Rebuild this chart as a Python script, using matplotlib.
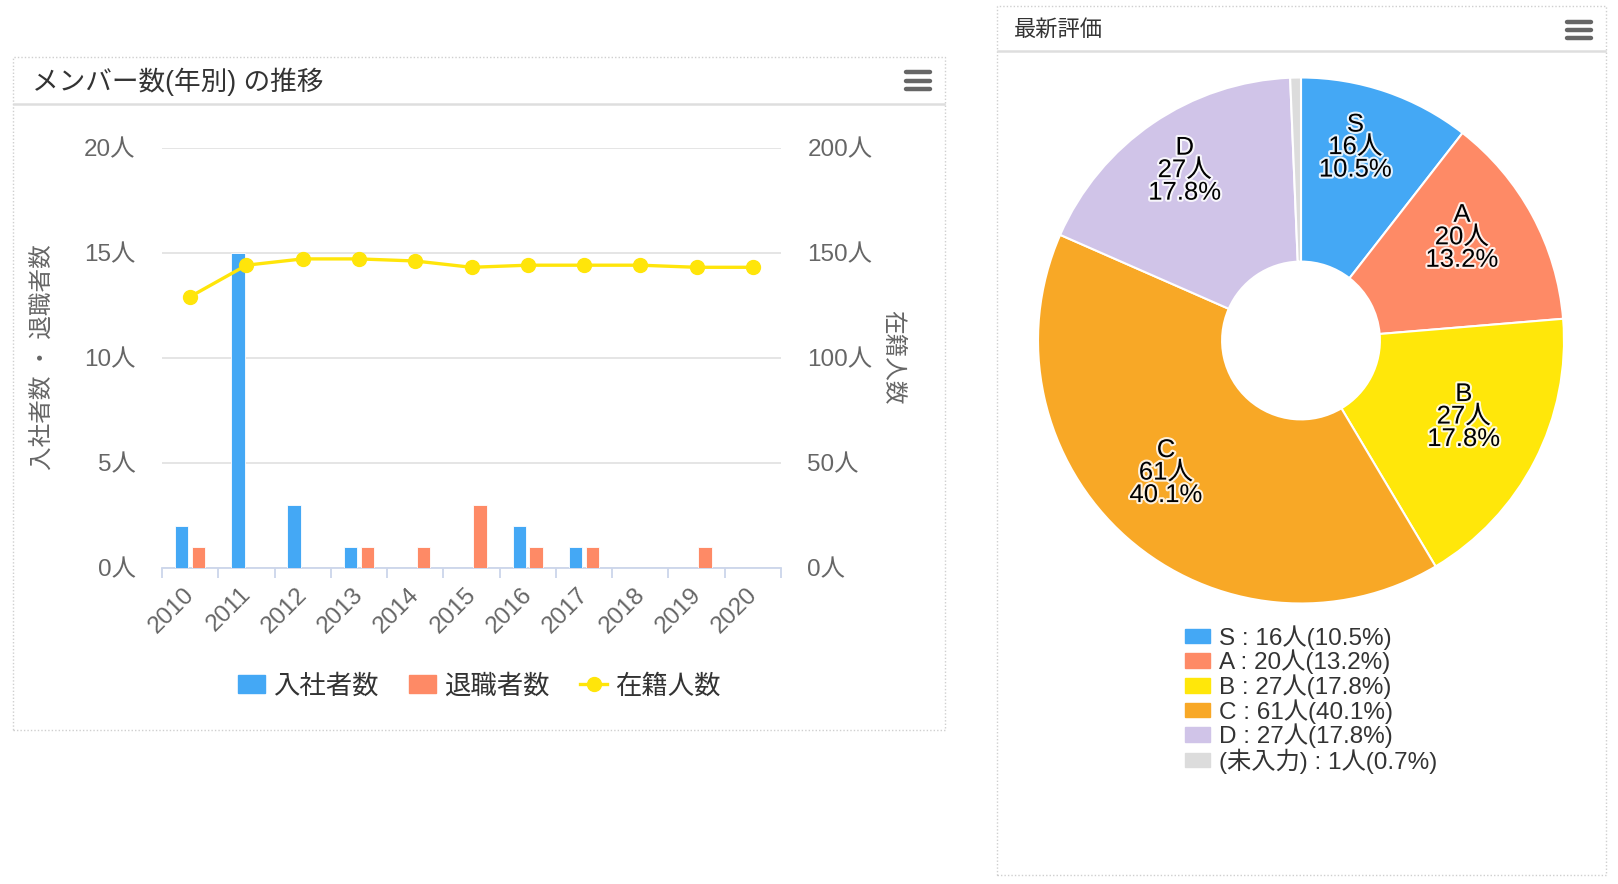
import matplotlib
matplotlib.use('Agg')
import matplotlib.pyplot as plt
import numpy as np
from matplotlib.patches import Rectangle, Patch
from matplotlib.lines import Line2D
from matplotlib.transforms import ScaledTranslation
import matplotlib.patheffects as pe

plt.rcParams['font.family'] = ['Liberation Sans', 'Noto Sans CJK JP']

# ---------------- data ----------------
years = ['2010', '2011', '2012', '2013', '2014', '2015', '2016', '2017', '2018', '2019', '2020']
joined = [2, 15, 3, 1, 0, 0, 2, 1, 0, 0, 0]
retired = [1, 0, 0, 1, 1, 3, 1, 1, 0, 1, 0]
headcount = [129, 144, 147, 147, 146, 143, 144, 144, 144, 143, 143]
series_names = ['入社者数', '退職者数', '在籍人数']
left_ticks = [0, 5, 10, 15, 20]
right_ticks = [0, 50, 100, 150, 200]

grades = ['S', 'A', 'B', 'C', 'D', '(未入力)']
grade_counts = [16, 20, 27, 61, 27, 1]

left_title = 'メンバー数(年別) の推移'
right_title = '最新評価'
left_ylabel = '入社者数 ・ 退職者数'
right_ylabel = '在籍人数'

# ---------------- style ----------------
BLUE = '#44a8f5'
ORANGE = '#fe8a66'
YELLOW = '#ffe50a'
grade_colors = ['#44a8f5', '#fe8a66', '#ffe70a', '#f8a826', '#d0c4e8', '#dcdcdc']
TICK_C = '#666666'
TITLE_C = '#333333'

W, H = 1618, 884
fig = plt.figure(figsize=(W / 100, H / 100), dpi=100)


def fx(p):
    return p / W


def fy(p):
    return 1 - p / H


# panels
for (x0, y0, x1, y1, sep) in [(12.5, 57, 945, 730, 104), (997, 5.5, 1606, 875, 50.6)]:
    fig.patches.append(Rectangle((fx(x0), fy(y1)), fx(x1) - fx(x0), fy(y0) - fy(y1),
                                 transform=fig.transFigure, fill=False, edgecolor='#cfcfcf',
                                 linestyle=(0, (1, 1.5)), linewidth=1))
    fig.add_artist(Line2D([fx(x0 + 1), fx(x1 - 1)], [fy(sep), fy(sep)], transform=fig.transFigure,
                          color='#dedede', linewidth=1.8))

# menu icons
for (xa, xb, ys) in [(906, 930, [72.2, 80.5, 88.7]), (1567, 1591, [21.7, 30, 38.2])]:
    for yy in ys:
        fig.add_artist(Line2D([fx(xa), fx(xb)], [fy(yy)] * 2, transform=fig.transFigure,
                              color='#666666', linewidth=3.2, solid_capstyle='round'))

fig.text(fx(32), fy(81.5), left_title, fontsize=19.2, color=TITLE_C, ha='left', va='center')
fig.text(fx(1014), fy(30), right_title, fontsize=16, color=TITLE_C, ha='left', va='center')

# ---------------- combo chart ----------------
ax = fig.add_axes([fx(162), fy(567.6), (781 - 162) / W, (567.6 - 147.6) / H])
x = np.arange(len(years))
ax.bar(x - 0.15, joined, width=0.24, color=BLUE, edgecolor='white', linewidth=0.6, zorder=3)
ax.bar(x + 0.15, retired, width=0.24, color=ORANGE, edgecolor='white', linewidth=0.6, zorder=3)
ax.set_xlim(-0.5, len(years) - 0.5)
ax.set_ylim(0, 20)
ax.set_yticks(left_ticks)
ax.set_yticklabels([f'{v}人' for v in left_ticks])
ax.grid(axis='y', color='#e3e3e3', linewidth=1.3)
ax.set_axisbelow(True)
for s in ['top', 'left', 'right']:
    ax.spines[s].set_visible(False)
ax.spines['bottom'].set_color('#ccd6eb')
ax.spines['bottom'].set_linewidth(1.3)
ax.set_xticks(np.arange(-0.5, len(years), 1.0))
ax.tick_params(axis='x', which='major', length=7, width=1.3, color='#ccd6eb', labelbottom=False)
ax.set_xticks(x, minor=True)
ax.set_xticklabels(years, minor=True, rotation=45, ha='right', va='center', rotation_mode='anchor')
ax.tick_params(axis='x', which='minor', length=0, pad=17, labelsize=17.5, labelcolor=TICK_C)
for lab in ax.get_xticklabels(minor=True):
    lab.set_transform(lab.get_transform() + ScaledTranslation(1 / 100, 0, fig.dpi_scale_trans))
ax.tick_params(axis='y', length=0, pad=19, labelsize=17.5, labelcolor=TICK_C)
ax.set_ylabel(left_ylabel, fontsize=17, color=TICK_C)
ax.yaxis.label.set_va('center')
ax.yaxis.set_label_coords((43 - 162) / 619, 0.5)

ax2 = ax.twinx()
ax2.plot(x, headcount, color=YELLOW, linewidth=2.4, marker='o', markersize=10, zorder=4)
ax2.set_ylim(0, 200)
ax2.set_yticks(right_ticks)
ax2.set_yticklabels([f'{v}人' for v in right_ticks])
for s in ax2.spines.values():
    s.set_visible(False)
ax2.tick_params(axis='y', length=0, pad=19, labelsize=17.5, labelcolor=TICK_C)
ax2.set_ylabel(right_ylabel, fontsize=17, color=TICK_C, rotation=270)
ax2.yaxis.label.set_va('center')
ax2.yaxis.set_label_coords((892 - 162) / 619, 0.5)

handles = [Patch(color=BLUE), Patch(color=ORANGE),
           Line2D([], [], color=YELLOW, linewidth=2.4, marker='o', markersize=10)]
ax2.legend(handles, series_names, ncol=3, loc='center', bbox_to_anchor=(fx(479), fy(686)),
           bbox_transform=fig.transFigure, frameon=False, fontsize=19, handlelength=1.05,
           handleheight=0.65, handletextpad=0.28, columnspacing=1.15, labelcolor=TITLE_C)

# ---------------- donut ----------------
R = 263
axp = fig.add_axes([fx(1301 - R), fy(340.5 + R), 2 * R / W, 2 * R / H])
wedges, _ = axp.pie(grade_counts, colors=grade_colors, startangle=90, counterclock=False,
                    radius=1, wedgeprops=dict(width=0.7, edgecolor='white', linewidth=1.5))
axp.set_xlim(-1, 1)
axp.set_ylim(-1, 1)
axp.axis('off')
total = sum(grade_counts)
for w, g, c in zip(wedges, grades, grade_counts):
    pct = 100 * c / total
    if pct < 1:
        continue
    ang = np.deg2rad((w.theta1 + w.theta2) / 2)
    axp.text(0.73 * np.cos(ang) - 0.03, 0.73 * np.sin(ang) + 0.045, f'{g}\n{c}人\n{pct:.1f}%',
             ha='center', va='center', fontsize=18.5, linespacing=0.92, color='black',
             path_effects=[pe.withStroke(linewidth=3, foreground='white', alpha=0.85)])

leg_labels = [f'{g} : {c}人({100 * c / total:.1f}%)' for g, c in zip(grades, grade_counts)]
axp.legend([Patch(color=c) for c in grade_colors], leg_labels, loc='upper left',
           bbox_to_anchor=(fx(1185), fy(625)), bbox_transform=fig.transFigure, frameon=False,
           fontsize=17.5, handlelength=1.03, handleheight=0.55, handletextpad=0.35,
           labelspacing=0.0, borderpad=0, borderaxespad=0, labelcolor=TITLE_C)

fig.savefig('out.png', dpi=100)
